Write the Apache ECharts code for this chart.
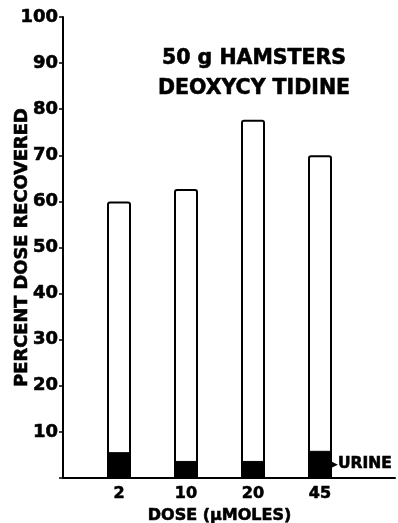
<!DOCTYPE html>
<html>
<head>
<meta charset="utf-8">
<script src="https://cdn.jsdelivr.net/npm/echarts@6/dist/echarts.min.js"></script>
<style>html,body{margin:0;padding:0;background:#fff;}#c{width:398px;height:523px;}</style>
</head>
<body>
<div id="c"></div>
<script>
const doses = ['2', '10', '20', '45'];
const totalRecovered = [60, 62.7, 77.7, 70];
const urine = [5.6, 3.7, 3.7, 5.9];
const yTicks = [0, 10, 20, 30, 40, 50, 60, 70, 80, 90, 100];

const FONT = 'DejaVu Sans';
const THICK = { textBorderColor: '#000', textBorderWidth: 0.6 };
const chart = echarts.init(document.getElementById('c'));
const urineData = urine.map((v, i) => i === urine.length - 1 ? {
  value: v,
  label: {
    show: true, position: 'right', distance: 0,
    formatter: '{a|▶}{b|URINE}',
    rich: {
      a: { fontSize: 9, color: '#000', fontFamily: 'DejaVu Sans', padding: [0, 0, 0, -1] },
      b: Object.assign({ fontSize: 15.5, fontWeight: 'bold', color: '#000', fontFamily: FONT }, THICK)
    }
  }
} : v);

chart.setOption({
  animation: false,
  backgroundColor: '#fff',
  title: {
    text: '50 g HAMSTERS\nDEOXYCY TIDINE',
    left: 249, top: 39, textAlign: 'center',
    textStyle: Object.assign({ fontFamily: FONT, fontSize: 20.5, fontWeight: 'bold', color: '#000', lineHeight: 30 }, THICK)
  },
  grid: [
    { left: 63, right: 3, top: 17, bottom: 45, containLabel: false, outerBoundsMode: 'none' },
    { left: 85.5, right: 44.5, top: 17, bottom: 45, containLabel: false, outerBoundsMode: 'none' }
  ],
  xAxis: [
    { type: 'value', gridIndex: 0, min: 0, max: 1, show: true,
      axisLine: { show: true, onZero: false, lineStyle: { color: '#000', width: 2 } },
      axisTick: { show: false }, axisLabel: { show: false }, splitLine: { show: false } },
    { type: 'category', gridIndex: 1, data: doses,
      axisLine: { show: false }, axisTick: { show: false },
      axisLabel: Object.assign({ margin: 8, color: '#000', fontFamily: FONT, fontSize: 16, fontWeight: 'bold' }, THICK),
      name: 'DOSE (μMOLES)', nameLocation: 'middle', nameGap: 30, nameMoveOverlap: false,
      nameTextStyle: Object.assign({ color: '#000', fontFamily: FONT, fontSize: 16, fontWeight: 'bold' }, THICK) }
  ],
  yAxis: [
    { type: 'value', gridIndex: 0, min: yTicks[0], max: yTicks[yTicks.length - 1], interval: 10,
      axisLine: { show: true, lineStyle: { color: '#000', width: 2 } },
      axisTick: { show: true, length: 4, lineStyle: { color: '#000', width: 1.5 } },
      splitLine: { show: false },
      axisLabel: Object.assign({ margin: 5, color: '#000', fontFamily: FONT, fontSize: 18, fontWeight: 'bold',
        formatter: v => v === 0 ? '' : String(v) }, THICK),
      name: 'PERCENT DOSE RECOVERED', nameLocation: 'middle', nameGap: 32, nameMoveOverlap: false,
      nameTextStyle: Object.assign({ color: '#000', fontFamily: FONT, fontSize: 17.8, fontWeight: 'bold' }, THICK) },
    { type: 'value', gridIndex: 1, min: 0, max: 100, show: false }
  ],
  series: [
    { type: 'bar', xAxisIndex: 1, yAxisIndex: 1, data: totalRecovered, barWidth: 24,
      itemStyle: { color: '#fff', borderColor: '#000', borderWidth: 2, borderRadius: [2, 2, 0, 0] } },
    { type: 'bar', xAxisIndex: 1, yAxisIndex: 1, data: urineData, barWidth: 24, barGap: '-100%',
      itemStyle: { color: '#000', borderColor: '#000', borderWidth: 1 } }
  ]
});
</script>
</body>
</html>
